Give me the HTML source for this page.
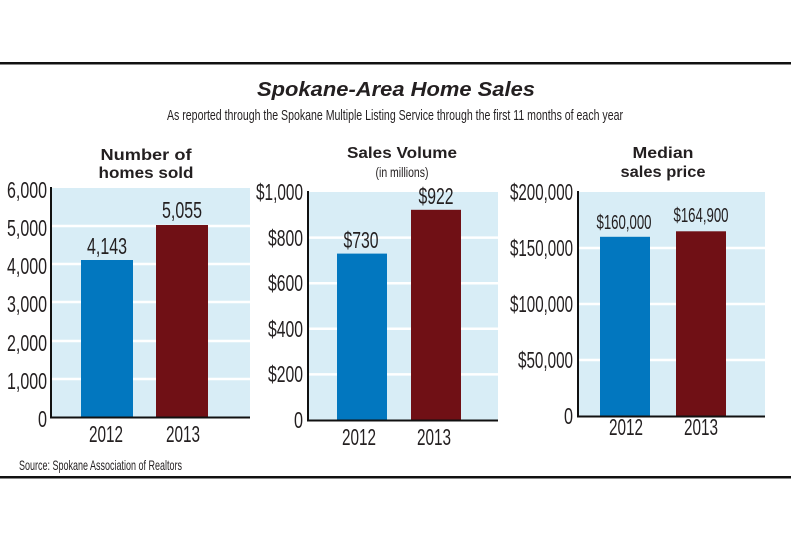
<!DOCTYPE html>
<html><head><meta charset="utf-8"><style>
html,body{margin:0;padding:0;background:#fff;}
svg{display:block;}
text{font-family:"Liberation Sans",sans-serif;fill:#231f20;}
.t{font-size:23px;}
.h{font-weight:bold;font-size:16px;}
</style></head><body>
<svg width="791" height="540" viewBox="0 0 791 540">
<rect x="0" y="62" width="791" height="2.5" fill="#111"/>
<rect x="0" y="476" width="791" height="2.5" fill="#111"/>
<text x="396" y="96" text-anchor="middle" font-size="20" font-weight="bold" font-style="italic" textLength="278" lengthAdjust="spacingAndGlyphs">Spokane-Area Home Sales</text>
<text x="395" y="120" text-anchor="middle" font-size="15" textLength="456" lengthAdjust="spacingAndGlyphs">As reported through the Spokane Multiple Listing Service through the first 11 months of each year</text>

<!-- Chart 1 -->
<text class="h" x="146" y="160" text-anchor="middle" textLength="91" lengthAdjust="spacingAndGlyphs">Number of</text>
<text class="h" x="146" y="178" text-anchor="middle" textLength="95" lengthAdjust="spacingAndGlyphs">homes sold</text>
<rect x="52" y="188" width="198" height="229" fill="#d8edf6"/>
<g stroke="#fff" stroke-width="2.5">
<line x1="52" x2="250" y1="226" y2="226"/><line x1="52" x2="250" y1="264" y2="264"/><line x1="52" x2="250" y1="302" y2="302"/><line x1="52" x2="250" y1="341" y2="341"/><line x1="52" x2="250" y1="379" y2="379"/>
</g>
<rect x="81" y="260" width="52" height="157" fill="#0277bf"/>
<rect x="156" y="225" width="52" height="192" fill="#701015"/>
<line x1="51" y1="187" x2="51" y2="418" stroke="#111" stroke-width="2"/>
<line x1="50" y1="417.5" x2="250" y2="417.5" stroke="#111" stroke-width="2"/>
<g class="t" text-anchor="end">
<text x="47" y="198" textLength="40" lengthAdjust="spacingAndGlyphs">6,000</text>
<text x="47" y="236" textLength="40" lengthAdjust="spacingAndGlyphs">5,000</text>
<text x="47" y="274" textLength="40" lengthAdjust="spacingAndGlyphs">4,000</text>
<text x="47" y="312" textLength="40" lengthAdjust="spacingAndGlyphs">3,000</text>
<text x="47" y="351" textLength="40" lengthAdjust="spacingAndGlyphs">2,000</text>
<text x="47" y="389" textLength="40" lengthAdjust="spacingAndGlyphs">1,000</text>
<text x="47" y="427" textLength="9" lengthAdjust="spacingAndGlyphs">0</text>
</g>
<g class="t" text-anchor="middle">
<text x="107" y="254" textLength="40" lengthAdjust="spacingAndGlyphs">4,143</text>
<text x="182" y="218" textLength="40" lengthAdjust="spacingAndGlyphs">5,055</text>
<text x="106" y="442" textLength="34" lengthAdjust="spacingAndGlyphs">2012</text>
<text x="183" y="442" textLength="34" lengthAdjust="spacingAndGlyphs">2013</text>
</g>

<!-- Chart 2 -->
<text class="h" x="402" y="158" text-anchor="middle" textLength="110" lengthAdjust="spacingAndGlyphs">Sales Volume</text>
<text x="402" y="177" text-anchor="middle" font-size="14" textLength="53" lengthAdjust="spacingAndGlyphs">(in millions)</text>
<rect x="309" y="192" width="189" height="228" fill="#d8edf6"/>
<g stroke="#fff" stroke-width="2.5">
<line x1="309" x2="498" y1="237.6" y2="237.6"/><line x1="309" x2="498" y1="283.2" y2="283.2"/><line x1="309" x2="498" y1="328.8" y2="328.8"/><line x1="309" x2="498" y1="374.4" y2="374.4"/>
</g>
<rect x="337" y="253.6" width="50" height="166.4" fill="#0277bf"/>
<rect x="411" y="209.8" width="50" height="210.2" fill="#701015"/>
<line x1="308" y1="191" x2="308" y2="421" stroke="#111" stroke-width="2"/>
<line x1="307" y1="420.5" x2="498" y2="420.5" stroke="#111" stroke-width="2"/>
<g class="t" text-anchor="end">
<text x="303" y="200" textLength="47" lengthAdjust="spacingAndGlyphs">$1,000</text>
<text x="303" y="246" textLength="35" lengthAdjust="spacingAndGlyphs">$800</text>
<text x="303" y="291" textLength="35" lengthAdjust="spacingAndGlyphs">$600</text>
<text x="303" y="337" textLength="35" lengthAdjust="spacingAndGlyphs">$400</text>
<text x="303" y="382" textLength="35" lengthAdjust="spacingAndGlyphs">$200</text>
<text x="303" y="428" textLength="9" lengthAdjust="spacingAndGlyphs">0</text>
</g>
<g class="t" text-anchor="middle">
<text x="361" y="248" textLength="35" lengthAdjust="spacingAndGlyphs">$730</text>
<text x="436" y="204" textLength="35" lengthAdjust="spacingAndGlyphs">$922</text>
<text x="359" y="445" textLength="34" lengthAdjust="spacingAndGlyphs">2012</text>
<text x="434" y="445" textLength="34" lengthAdjust="spacingAndGlyphs">2013</text>
</g>

<!-- Chart 3 -->
<text class="h" x="663" y="158" text-anchor="middle" textLength="61" lengthAdjust="spacingAndGlyphs">Median</text>
<text class="h" x="663" y="177" text-anchor="middle" textLength="85" lengthAdjust="spacingAndGlyphs">sales price</text>
<rect x="579" y="192" width="186" height="224" fill="#d8edf6"/>
<g stroke="#fff" stroke-width="2.5">
<line x1="579" x2="765" y1="248" y2="248"/><line x1="579" x2="765" y1="304" y2="304"/><line x1="579" x2="765" y1="360" y2="360"/>
</g>
<rect x="600" y="236.8" width="50" height="179.2" fill="#0277bf"/>
<rect x="676" y="231.3" width="50" height="184.7" fill="#701015"/>
<line x1="578" y1="191" x2="578" y2="417" stroke="#111" stroke-width="2"/>
<line x1="577" y1="416.5" x2="765" y2="416.5" stroke="#111" stroke-width="2"/>
<g class="t" text-anchor="end">
<text x="573" y="200" textLength="63" lengthAdjust="spacingAndGlyphs">$200,000</text>
<text x="573" y="256" textLength="63" lengthAdjust="spacingAndGlyphs">$150,000</text>
<text x="573" y="312" textLength="63" lengthAdjust="spacingAndGlyphs">$100,000</text>
<text x="573" y="368" textLength="55" lengthAdjust="spacingAndGlyphs">$50,000</text>
<text x="573" y="424" textLength="9" lengthAdjust="spacingAndGlyphs">0</text>
</g>
<g text-anchor="middle" font-size="20">
<text x="624" y="229" textLength="55" lengthAdjust="spacingAndGlyphs">$160,000</text>
<text x="701" y="222" textLength="55" lengthAdjust="spacingAndGlyphs">$164,900</text>
</g>
<g class="t" text-anchor="middle">
<text x="626" y="435" textLength="34" lengthAdjust="spacingAndGlyphs">2012</text>
<text x="701" y="435" textLength="34" lengthAdjust="spacingAndGlyphs">2013</text>
</g>

<text x="19" y="470" font-size="14" textLength="163" lengthAdjust="spacingAndGlyphs">Source: Spokane Association of Realtors</text>
</svg>
</body></html>
